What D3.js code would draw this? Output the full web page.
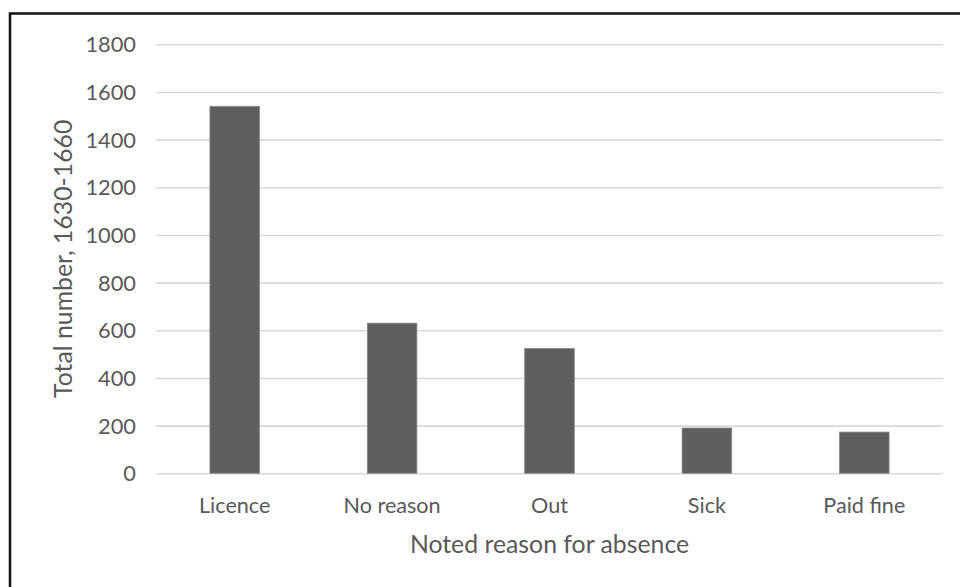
<!DOCTYPE html>
<html>
<head>
<meta charset="utf-8">
<script src="https://cdn.jsdelivr.net/npm/d3@7"></script>
<style>
  html, body { margin: 0; padding: 0; background: #fff; }
  svg { display: block; }
  text { font-family: Lato, "Open Sans", sans-serif; fill: #595959; }
</style>
</head>
<body>
<script>
// Absences noted in the records, by reason
const categories = ["Licence", "No reason", "Out", "Sick", "Paid fine"];
const totals = [1540, 630, 524, 190, 173];
const yTicks = [0, 200, 400, 600, 800, 1000, 1200, 1400, 1600, 1800];
const xTitle = "Noted reason for absence";
const yTitle = "Total number, 1630-1660";

const W = 960, H = 587;
const plot = { left: 156, right: 943, top: 44.3, bottom: 473.3 };

const svg = d3.select("body").append("svg")
  .attr("width", W).attr("height", H);

// frame line along the top and left edges
svg.append("path")
  .attr("d", `M10,${H + 5} L10,13.5 L${W + 5},13.5`)
  .attr("fill", "none")
  .attr("stroke", "#111")
  .attr("stroke-width", 2.5);

const x = d3.scaleBand()
  .domain(categories)
  .range([plot.left, plot.right])
  .paddingInner(0.685)
  .paddingOuter(0.3425);

const y = d3.scaleLinear()
  .domain([0, 1800])
  .range([plot.bottom, plot.top]);

// horizontal gridlines
const yAxis = d3.axisLeft(y)
  .tickValues(yTicks)
  .tickSize(-(plot.right - plot.left))
  .tickPadding(20)
  .tickFormat(d3.format("d"));

const gy = svg.append("g")
  .attr("transform", `translate(${plot.left},0)`)
  .call(yAxis);
gy.select(".domain").remove();
gy.selectAll(".tick line")
  .attr("stroke", "#d9d9d9")
  .attr("stroke-width", 1.6);
gy.selectAll(".tick text")
  .attr("font-size", 21.8)
  .attr("fill", "#595959")
  .attr("dy", "0.34em");

// bars
svg.append("g")
  .selectAll("rect")
  .data(categories)
  .join("rect")
  .attr("x", d => x(d))
  .attr("width", x.bandwidth())
  .attr("y", (d, i) => y(totals[i]))
  .attr("height", (d, i) => y(0) - y(totals[i]))
  .attr("fill", "#5f5f5f")
  .attr("stroke", "#8a8a8a")
  .attr("stroke-width", 0.8);

// category labels
const xAxis = d3.axisBottom(x).tickSize(0).tickPadding(24.5);
const gx = svg.append("g")
  .attr("transform", `translate(0,${plot.bottom})`)
  .call(xAxis);
gx.select(".domain").remove();
gx.selectAll(".tick text")
  .attr("font-size", 21.6)
  .attr("fill", "#595959");

// axis titles
svg.append("text")
  .attr("x", (plot.left + plot.right) / 2)
  .attr("y", 553)
  .attr("text-anchor", "middle")
  .attr("font-size", 24.8)
  .text(xTitle);

svg.append("text")
  .attr("transform", `translate(72,${(plot.top + plot.bottom) / 2}) rotate(-90)`)
  .attr("text-anchor", "middle")
  .attr("font-size", 24.8)
  .text(yTitle);
</script>
</body>
</html>
